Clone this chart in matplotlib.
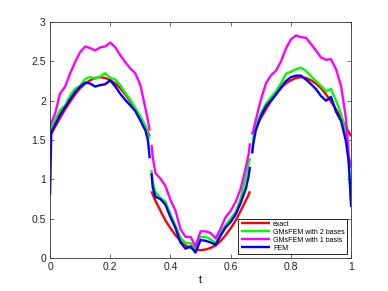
import numpy as np
import matplotlib
matplotlib.use('Agg')
import matplotlib.pyplot as plt

plt.rcParams['font.family'] = ['Liberation Sans', 'DejaVu Sans']

# three time pieces (the solution jumps at t = 1/3 and t = 2/3)
t1 = [0, 0.004, 0.017, 0.033, 0.05, 0.067, 0.083, 0.1, 0.117, 0.133, 0.15, 0.167,
      0.183, 0.2, 0.217, 0.233, 0.25, 0.267, 0.283, 0.3, 0.317, 0.325, 0.331]
t2 = [0.337, 0.341, 0.35, 0.367, 0.383, 0.4, 0.417, 0.433, 0.45, 0.467, 0.483, 0.5,
      0.517, 0.533, 0.55, 0.567, 0.583, 0.6, 0.617, 0.633, 0.65, 0.659, 0.664]
t3 = [0.671, 0.675, 0.683, 0.7, 0.717, 0.733, 0.75, 0.767, 0.783, 0.8, 0.817, 0.833,
      0.85, 0.867, 0.883, 0.9, 0.917, 0.933, 0.95, 0.967, 0.983, 0.992, 1.0]

exact1 = [1.55, 1.58, 1.67, 1.78, 1.89, 1.99, 2.08, 2.16, 2.22, 2.26, 2.29, 2.30,
          2.29, 2.26, 2.22, 2.16, 2.08, 1.99, 1.89, 1.78, 1.67, 1.60, 1.55]
exact2 = [0.85, 0.81, 0.73, 0.60, 0.48, 0.38, 0.29, 0.22, 0.16, 0.13, 0.11, 0.10,
          0.11, 0.13, 0.16, 0.22, 0.29, 0.38, 0.48, 0.60, 0.73, 0.80, 0.85]
exact3 = [1.57, 1.60, 1.67, 1.78, 1.89, 1.99, 2.08, 2.16, 2.22, 2.26, 2.29, 2.30,
          2.29, 2.26, 2.22, 2.16, 2.08, 1.99, 1.89, 1.78, 1.67, 1.60, 1.55]

gms2_1 = [1.62, 1.66, 1.76, 1.88, 1.94, 2.07, 2.15, 2.19, 2.28, 2.30, 2.28, 2.31,
          2.35, 2.29, 2.27, 2.20, 2.10, 2.01, 1.91, 1.80, 1.68, 1.58, 1.52]
gms2_2 = [1.12, 0.97, 0.84, 0.76, 0.72, 0.56, 0.41, 0.26, 0.19, 0.19, 0.12, 0.27,
          0.27, 0.24, 0.19, 0.33, 0.42, 0.50, 0.59, 0.76, 1.03, 1.20, 1.27]
gms2_3 = [1.35, 1.52, 1.68, 1.84, 1.96, 2.04, 2.12, 2.22, 2.34, 2.37, 2.40, 2.42,
          2.38, 2.31, 2.25, 2.19, 2.12, 2.15, 2.00, 1.83, 1.60, 1.22, 0.68]

gms1_1 = [1.68, 1.72, 1.84, 2.09, 2.18, 2.35, 2.49, 2.62, 2.69, 2.67, 2.64, 2.68,
          2.69, 2.74, 2.68, 2.58, 2.49, 2.41, 2.35, 2.20, 1.90, 1.75, 1.62]
gms1_2 = [1.44, 1.29, 1.08, 1.01, 0.92, 0.74, 0.60, 0.37, 0.27, 0.27, 0.15, 0.34,
          0.34, 0.32, 0.25, 0.38, 0.52, 0.60, 0.72, 0.88, 1.15, 1.31, 1.46]
gms1_3 = [1.58, 1.62, 1.75, 2.01, 2.22, 2.32, 2.38, 2.50, 2.66, 2.78, 2.83, 2.81,
          2.80, 2.72, 2.64, 2.55, 2.52, 2.53, 2.40, 2.18, 1.77, 1.30, 1.15]

fem1 = [0.80, 1.60, 1.70, 1.82, 1.92, 2.02, 2.11, 2.18, 2.23, 2.22, 2.18, 2.20,
        2.21, 2.26, 2.18, 2.09, 2.01, 1.94, 1.87, 1.75, 1.62, 1.50, 1.27]
fem2 = [1.08, 0.90, 0.78, 0.75, 0.68, 0.52, 0.38, 0.20, 0.12, 0.15, 0.07, 0.23,
        0.22, 0.20, 0.17, 0.29, 0.39, 0.46, 0.56, 0.70, 0.88, 1.03, 1.16]
fem3 = [1.33, 1.45, 1.62, 1.80, 1.93, 2.00, 2.08, 2.17, 2.25, 2.30, 2.32, 2.32,
        2.27, 2.21, 2.15, 2.06, 2.00, 2.05, 1.86, 1.74, 1.48, 1.22, 0.65]

labels = ['exact', 'GMsFEM with 2 bases', 'GMsFEM with 1 basis', 'FEM']
series = [(exact1, exact2, exact3), (gms2_1, gms2_2, gms2_3),
          (gms1_1, gms1_2, gms1_3), (fem1, fem2, fem3)]
colors = ['#ff0000', '#00ff00', '#ff00ff', '#0000ff']

fig = plt.figure(figsize=(3.88, 2.91), dpi=100)
ax = fig.add_axes([0.129, 0.113, 0.776, 0.811])

for lab, segs, c in zip(labels, series, colors):
    for k, (tt, vv) in enumerate(zip([t1, t2, t3], segs)):
        ax.plot(tt, vv, color=c, lw=1.7, label=lab if k == 0 else None,
                solid_capstyle='butt')

ax.set_xlim(0, 1)
ax.set_ylim(0, 3)
ax.set_xticks([0, 0.2, 0.4, 0.6, 0.8, 1])
ax.set_xticklabels(['0', '0.2', '0.4', '0.6', '0.8', '1'])
ax.set_yticks([0, 0.5, 1, 1.5, 2, 2.5, 3])
ax.set_yticklabels(['0', '0.5', '1', '1.5', '2', '2.5', '3'])
ax.tick_params(direction='in', top=True, right=True, labelsize=7.5, length=3,
               width=0.5, pad=3, colors='#333333', labelcolor='#222222')
for s in ax.spines.values():
    s.set_linewidth(0.6)
    s.set_color('#333333')
ax.set_xlabel('t', fontsize=7.5, labelpad=2)

leg = ax.legend(loc='lower right', fontsize=5, frameon=True, fancybox=False,
                edgecolor='black', framealpha=1, handlelength=4.2,
                handletextpad=0.5, labelspacing=0.15, borderpad=0.3,
                borderaxespad=0.6)
leg.get_frame().set_linewidth(0.6)

fig.savefig('out.png', dpi=100)
